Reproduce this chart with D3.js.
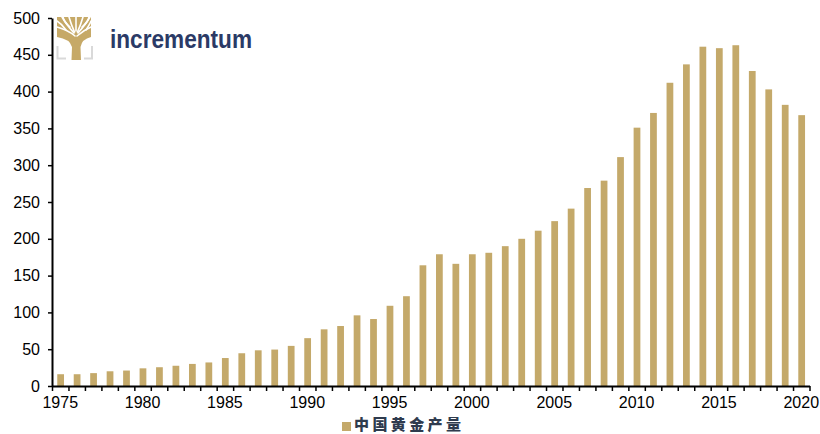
<!DOCTYPE html>
<html><head><meta charset="utf-8">
<script src="https://cdn.jsdelivr.net/npm/d3@7"></script>
<style>html,body{margin:0;padding:0;background:#fff;}svg{display:block;}</style>
</head><body>
<svg id="chart" width="820" height="434"></svg>
<script>
const years = d3.range(1975, 2021);
const production = [16,16,17.5,20,21,24,25.5,27.5,30,32,38,44.5,48.5,49.5,54.5,65,77,81.5,96,91,109,122,
  164,179,166,179,181,190,200,211,224,241,269,279,311,351,371,412,437,461,459,463,428,403,382,368];
const yTicks = [0,50,100,150,200,250,300,350,400,450,500];
const xLabelYears = [1975,1980,1985,1990,1995,2000,2005,2010,2015,2020];
const seriesName = "中国黄金产量";

const gold = "#C4A96A";
const svg = d3.select("#chart");
const L = 52, R = 809.5, T = 18, B = 386;

const x = d3.scaleBand().domain(years).range([L, R]).padding(0);
const xEdge = d3.scaleLinear().domain([1975, 2021]).range([L, R]);
const y = d3.scaleLinear().domain([0, 500]).range([B, T]);

// bars
const bw = x.bandwidth() * 0.41;
svg.append("g").selectAll("rect").data(years).join("rect")
  .attr("x", (d) => x(d) + x.bandwidth()/2 - bw/2 + 0.4)
  .attr("width", bw)
  .attr("y", (d, i) => y(production[i]))
  .attr("height", (d, i) => B - y(production[i]))
  .attr("fill", gold);

// y axis
const yAxis = svg.append("g").attr("transform", `translate(${L},0)`)
  .call(d3.axisLeft(y).tickValues(yTicks).tickSize(4).tickPadding(8).tickSizeOuter(0));
yAxis.select(".domain").attr("stroke", "#000").attr("stroke-width", 2);
yAxis.selectAll(".tick line").attr("stroke", "#000").attr("stroke-width", 1.5);
yAxis.selectAll("text").attr("font-family", "'Liberation Sans', Arial, sans-serif").attr("font-size", 16).attr("fill", "#000");

// x axis ticks at band edges
const xTickAxis = svg.append("g").attr("transform", `translate(0,${B})`)
  .call(d3.axisBottom(xEdge).tickValues(d3.range(1975, 2022)).tickSize(5).tickFormat("").tickSizeOuter(0));
xTickAxis.select(".domain").attr("stroke", "#000").attr("stroke-width", 2);
xTickAxis.selectAll(".tick line").attr("stroke", "#000").attr("stroke-width", 1.5);

// x labels
const xLab = svg.append("g").attr("transform", `translate(0,${B})`)
  .call(d3.axisBottom(x).tickValues(xLabelYears).tickSize(0).tickPadding(11));
xLab.select(".domain").remove();
xLab.selectAll("text").attr("font-family", "'Liberation Sans', Arial, sans-serif").attr("font-size", 16).attr("fill", "#000");

// legend
const lg = svg.append("g");
lg.append("rect").attr("x", 342).attr("y", 422).attr("width", 9).attr("height", 9).attr("fill", gold);
lg.append("text").attr("x", 354).attr("y", 430)
  .attr("font-family", "'Noto Sans CJK SC', sans-serif").attr("font-weight", 900)
  .attr("font-size", 15).attr("letter-spacing", 3.4).attr("fill", "#2F3B4E").text(seriesName);

// logo
const logo = svg.append("g");
const tg = "#C6A967";
logo.append("path")
  .attr("d", "M57,17 L91,17 L91,37 Q82,39 80.5,47 L81,60 L71.5,60 L72,47 Q70,39 57,37 Z")
  .attr("fill", tg);
const gaps = [
  "M75,36 Q68,30 57,27", "M74,33 Q66,24 62,17", "M74.5,32 Q71,24 69,17",
  "M76,31 L76,17", "M77.5,32 Q81,24 83,17", "M78,33 Q86,24 90,17",
  "M77,36 Q84,30 91,27", "M66,30 Q62,24 57,21", "M86,30 Q90,24 91,21",
  "M70,27 Q64,22 63,17", "M82,27 Q88,22 89,17"
];
logo.selectAll("path.gap").data(gaps).join("path").attr("class", "gap")
  .attr("d", (d) => d).attr("fill", "none").attr("stroke", "#fff").attr("stroke-width", 1.6).attr("stroke-linecap", "round");
// grey brackets
logo.append("path").attr("d", "M57.5,46 L57.5,58.5 L66,58.5").attr("fill", "none").attr("stroke", "#D9D9D9").attr("stroke-width", 2);
logo.append("path").attr("d", "M92,46 L92,58.5 L84,58.5").attr("fill", "none").attr("stroke", "#D9D9D9").attr("stroke-width", 2);
logo.append("text").attr("x", 110).attr("y", 48)
  .attr("font-family", "'Liberation Sans', Arial, sans-serif").attr("font-weight", "bold")
  .attr("font-size", 26).attr("textLength", 142).attr("lengthAdjust", "spacingAndGlyphs")
  .attr("fill", "#2B3A66").text("incrementum");
</script>
</body></html>
